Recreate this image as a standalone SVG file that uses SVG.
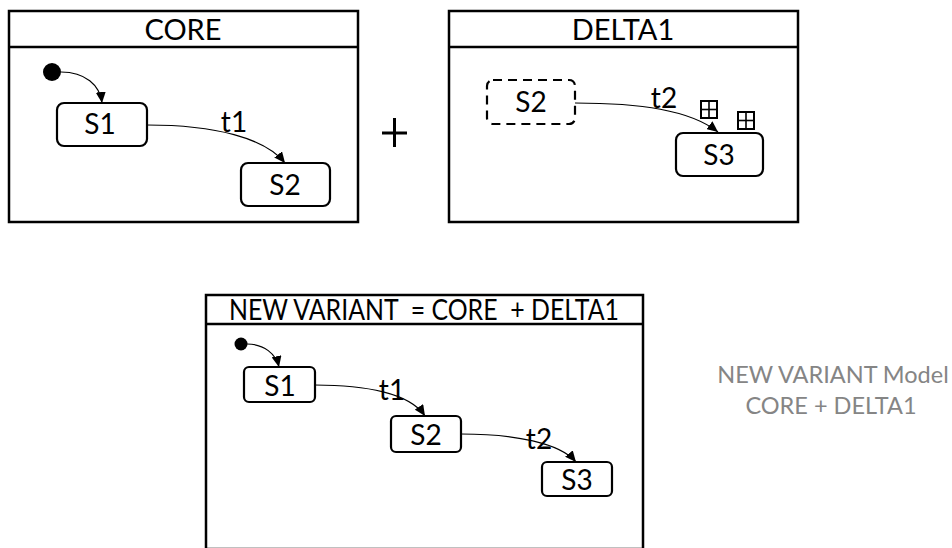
<svg xmlns="http://www.w3.org/2000/svg" width="952" height="548" viewBox="0 0 952 548">
  <style>
    .frame { fill: #fff; stroke: #000; stroke-width: 2.5; }
    .sep { stroke: #000; stroke-width: 2.5; }
    .state { fill: #fff; stroke: #000; stroke-width: 2.2; }
    .ghost { fill: #fff; stroke: #000; stroke-width: 2.2; stroke-dasharray: 9 6; }
    .edge { fill: none; stroke: #000; stroke-width: 1.2; marker-end: url(#arrow); }
    .title { font-family: Lato, "Liberation Sans", sans-serif; font-size: 29px; fill: #000; text-anchor: middle; }
    .lbl { font-family: Lato, "Liberation Sans", sans-serif; font-size: 28px; fill: #000; text-anchor: middle; }
    .note { font-family: Lato, "Liberation Sans", sans-serif; font-size: 23.5px; fill: #858585; text-anchor: middle; }
    .icon { fill: #fff; stroke: #000; stroke-width: 2; }
    .icon-line { stroke: #000; stroke-width: 1.6; }
  </style>
  <defs>
    <marker id="arrow" markerUnits="userSpaceOnUse" markerWidth="12" markerHeight="10" refX="11" refY="5" orient="auto">
      <path d="M0,0 L11,5 L0,10 Z" fill="#000"/>
    </marker>
    <g id="grid-icon">
      <rect class="icon" x="0" y="0" width="16" height="17"/>
      <line class="icon-line" x1="8" y1="0" x2="8" y2="17"/>
      <line class="icon-line" x1="0" y1="8.5" x2="16" y2="8.5"/>
    </g>
  </defs>

  <!-- CORE machine -->
  <g id="core">
    <rect class="frame" x="9" y="11" width="349" height="211"/>
    <line class="sep" x1="9" y1="47" x2="358" y2="47"/>
    <text class="title" x="183" y="40">CORE</text>
  </g>
  <g id="core-init">
    <circle cx="52" cy="72" r="9" fill="#000"/>
  </g>
  <g id="core-s1">
    <rect class="state" x="57" y="103" width="90" height="43" rx="7"/>
    <text class="lbl" x="100" y="134">S1</text>
  </g>
  <g id="core-s2">
    <rect class="state" x="241" y="163" width="89" height="43" rx="7"/>
    <text class="lbl" x="285" y="195">S2</text>
  </g>

  <!-- plus sign between the machines -->
  <g id="plus">
    <line x1="382" y1="133" x2="407" y2="133" stroke="#000" stroke-width="3"/>
    <line x1="394.5" y1="118" x2="394.5" y2="147" stroke="#000" stroke-width="3"/>
  </g>

  <!-- DELTA1 machine -->
  <g id="delta1">
    <rect class="frame" x="449" y="11" width="349" height="211"/>
    <line class="sep" x1="449" y1="47" x2="798" y2="47"/>
    <text class="title" x="623" y="40">DELTA1</text>
  </g>
  <g id="delta-s2">
    <rect class="ghost" x="487" y="80" width="88" height="44" rx="6"/>
    <text class="lbl" x="531" y="112">S2</text>
  </g>
  <g id="delta-s3">
    <rect class="state" x="676" y="133" width="87" height="43" rx="7"/>
    <text class="lbl" x="719" y="165">S3</text>
  </g>
  <g id="delta-icons">
    <use href="#grid-icon" x="701" y="101"/>
    <use href="#grid-icon" x="738" y="112"/>
  </g>

  <!-- NEW VARIANT machine -->
  <g id="variant">
    <rect class="frame" x="206" y="295" width="437" height="254"/>
    <line class="sep" x1="206" y1="324" x2="643" y2="324"/>
    <text class="title" x="424" y="320" font-size="26" textLength="390" lengthAdjust="spacingAndGlyphs" xml:space="preserve">NEW VARIANT  = CORE  + DELTA1</text>
  </g>
  <g id="variant-init">
    <circle cx="241" cy="344" r="6.5" fill="#000"/>
  </g>
  <g id="variant-s1">
    <rect class="state" x="244" y="367" width="71" height="35" rx="5"/>
    <text class="lbl" x="280" y="396">S1</text>
  </g>
  <g id="variant-s2">
    <rect class="state" x="391" y="416" width="70" height="36" rx="5"/>
    <text class="lbl" x="426" y="445">S2</text>
  </g>
  <g id="variant-s3">
    <rect class="state" x="542" y="462" width="70" height="34" rx="5"/>
    <text class="lbl" x="577" y="490">S3</text>
  </g>

  <!-- side caption -->
  <g id="caption">
    <text class="note" x="833" y="383">NEW VARIANT Model</text>
    <text class="note" x="831" y="414">CORE + DELTA1</text>
  </g>

  <!-- transitions -->
  <g id="connectors">
    <path class="edge" d="M61,72 C 85,72 100,85 102,103"/>
    <path class="edge" d="M147,125 C 215,125 265,138 285,163"/>
    <text class="lbl" x="234" y="132">t1</text>

    <path class="edge" d="M575,103 C 640,103 690,110 718,132"/>
    <text class="lbl" x="664" y="108">t2</text>

    <path class="edge" d="M247,344 C 264,344 276,354 279,367"/>
    <path class="edge" d="M315,385 C 365,385 410,393 425,416"/>
    <text class="lbl" x="392" y="400">t1</text>
    <path class="edge" d="M461,434 C 515,434 560,443 576,462"/>
    <text class="lbl" x="539" y="449">t2</text>
  </g>
</svg>
